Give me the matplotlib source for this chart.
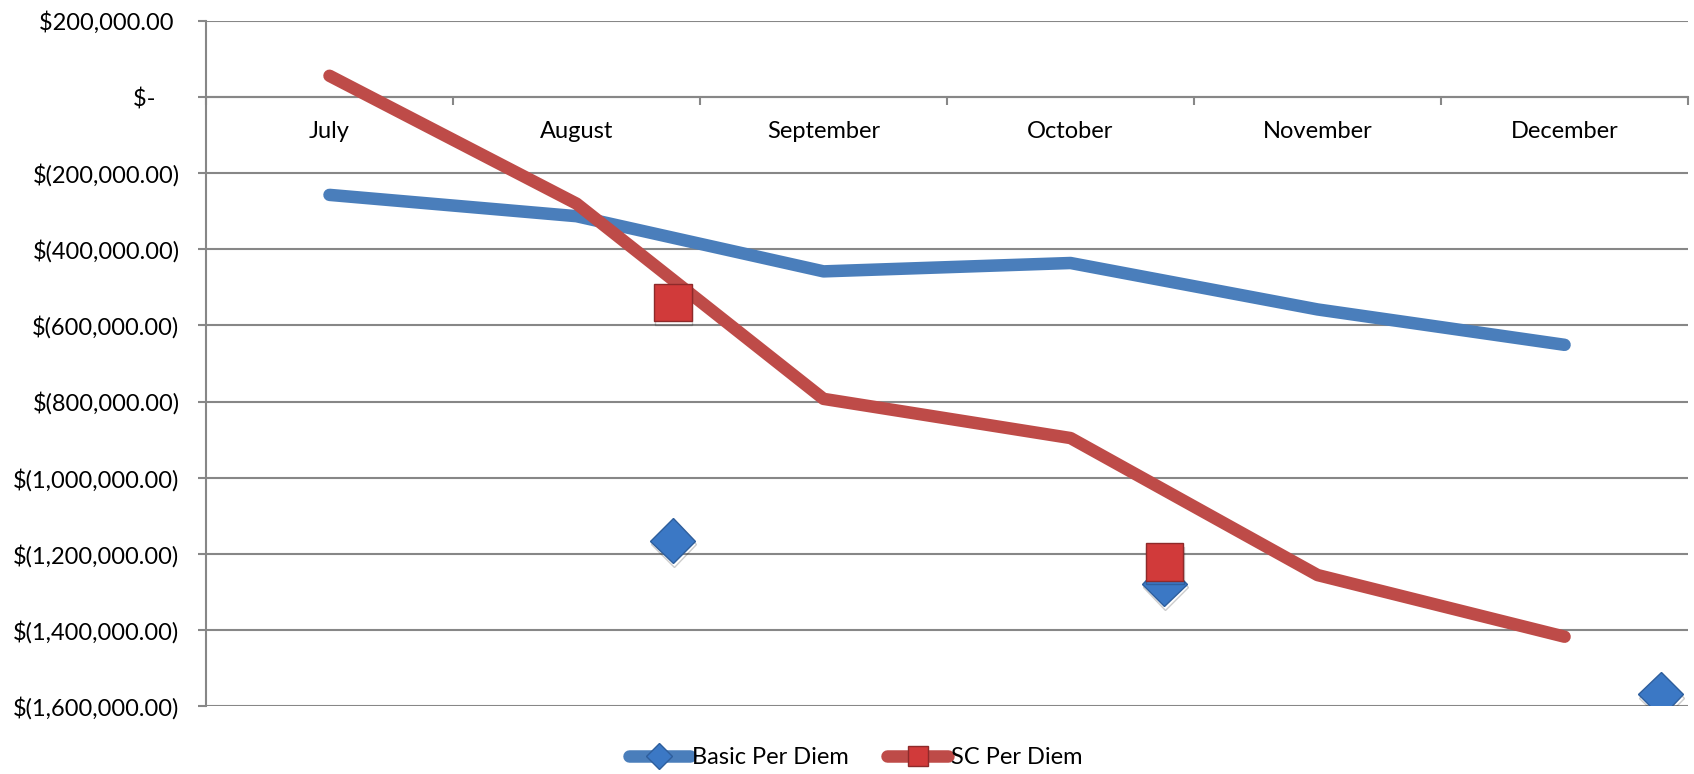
import matplotlib.pyplot as plt
import matplotlib.patheffects as pe
from matplotlib.ticker import FuncFormatter, FixedLocator
import numpy as np

plt.rcParams["font.family"] = ["Lato", "DejaVu Sans"]

# Chart data
months = ["July", "August", "September", "October", "November", "December"]
basic_per_diem = [-257000, -313000, -458000, -436000, -558000, -651000]
sc_per_diem = [56000, -280000, -793000, -896000, -1256000, -1418000]

# Stray markers (x in category units, 0 = July)
basic_marker_x = [1.39, 3.38, 5.39]
basic_marker_y = [-1166000, -1279000, -1569000]
sc_marker_x = [1.39, 3.38]
sc_marker_y = [-540000, -1222000]

BLUE = "#4A7EBB"
RED = "#BE4B48"
GRID = "#878787"
FS = 17


def money(v, pos=None):
    if abs(v) < 1:
        return "$-    "
    if v < 0:
        return f"$({abs(v):,.2f})"
    return f"${v:,.2f} "


fig = plt.figure(figsize=(16.94, 7.74), dpi=100)
ax = fig.add_axes([0.1216, 0.0879, 0.8749, 0.885])

x = np.arange(len(months))
shadow = [pe.SimpleLineShadow(offset=(0.5, -2.5), shadow_color="black", alpha=0.2), pe.Normal()]

ax.plot(x, basic_per_diem, color=BLUE, lw=9, solid_capstyle="round",
        solid_joinstyle="round", zorder=3)
ax.plot(x, sc_per_diem, color=RED, lw=9, solid_capstyle="round",
        solid_joinstyle="round", zorder=3)

ax.plot(basic_marker_x, basic_marker_y, ls="none", marker="D", ms=23,
        mfc="#3B78C5", mec="#2E5E9C", mew=1, zorder=4, path_effects=shadow)
ax.plot(sc_marker_x, sc_marker_y, ls="none", marker="s", ms=27,
        mfc="#D13A3A", mec="#8E2A2A", mew=1, zorder=5, path_effects=shadow)

ax.set_xlim(-0.5, len(months) - 0.5)
ax.set_ylim(-1600000, 200000)

# gridlines
ax.set_yticks(np.arange(-1600000, 200001, 200000))
ax.yaxis.set_major_formatter(FuncFormatter(money))
ax.grid(axis="y", color=GRID, lw=1.5)
ax.set_axisbelow(True)

# category axis crosses at zero
ax.spines["bottom"].set_position(("data", 0))
ax.spines["bottom"].set_color(GRID)
ax.spines["bottom"].set_linewidth(1.5)
ax.spines["left"].set_color(GRID)
ax.spines["left"].set_linewidth(1.5)
ax.spines["top"].set_visible(False)
ax.spines["right"].set_visible(False)

ax.xaxis.set_major_locator(FixedLocator(np.arange(-0.5, len(months), 1.0)))
ax.xaxis.set_major_formatter(FuncFormatter(lambda v, p: ""))
ax.xaxis.set_minor_locator(FixedLocator(x))
ax.set_xticklabels(months, minor=True)
ax.tick_params(axis="x", which="major", length=6, width=1.5, color=GRID)
ax.tick_params(axis="x", which="minor", length=0, pad=17, labelsize=FS)
ax.tick_params(axis="y", length=6, width=1.5, color=GRID, pad=13, labelsize=FS)

# legend
h1, = ax.plot([], [], color=BLUE, lw=9, solid_capstyle="round", marker="D", ms=13,
              mfc="#3B78C5", mec="#2E5E9C", label="Basic Per Diem")
h2, = ax.plot([], [], color=RED, lw=9, solid_capstyle="round", marker="s", ms=15,
              mfc="#D13A3A", mec="#8E2A2A", label="SC Per Diem")
fig.legend(handles=[h1, h2], loc="lower center", bbox_to_anchor=(0.505, -0.02),
           ncol=2, frameon=False, fontsize=FS, handlelength=2.6,
           handletextpad=0.1, columnspacing=1.6)

plt.savefig("out.png", dpi=100)
